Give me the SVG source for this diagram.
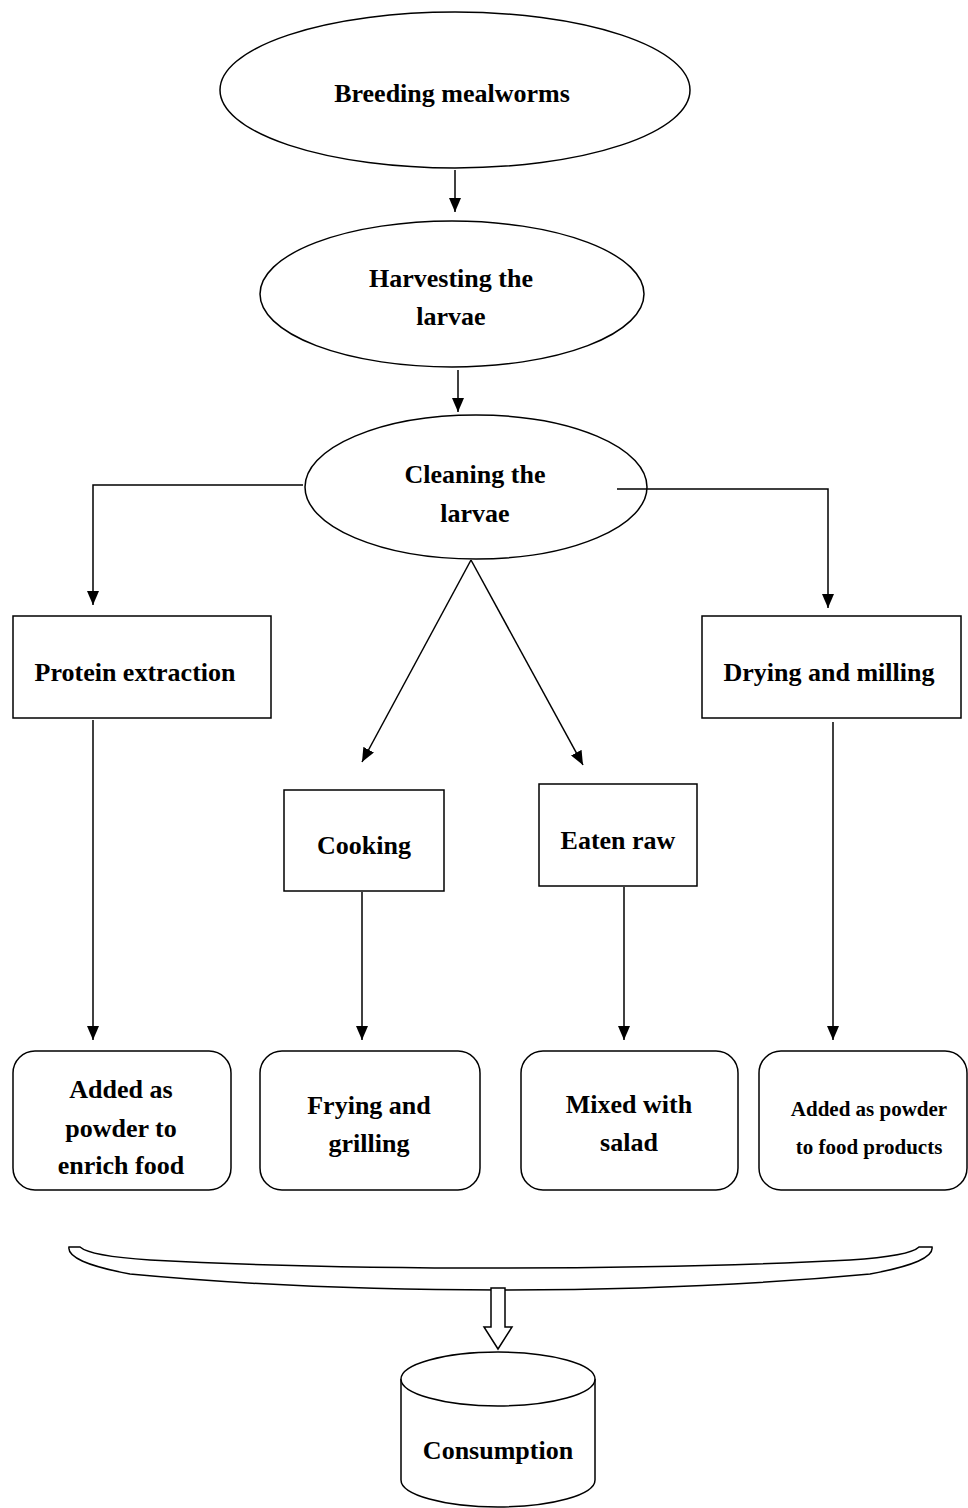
<svg xmlns="http://www.w3.org/2000/svg" width="968" height="1508" viewBox="0 0 968 1508">
<style>
.s{fill:#fff;stroke:#000;stroke-width:1.5}
.t{font-family:"Liberation Serif","Times New Roman",serif;font-weight:bold;font-size:26px;fill:#000;text-anchor:middle}
.sm{font-size:21px}
.c{fill:none;stroke:#000;stroke-width:1.5}
</style>
<defs>
<marker id="ah2" viewBox="0 0 14 12" refX="14" refY="6" markerWidth="14" markerHeight="12" markerUnits="userSpaceOnUse" orient="auto">
<path d="M0,0 L14,6 L0,12 Z" fill="#000"/>
</marker>
</defs>
<rect width="968" height="1508" fill="#fff"/>
<g id="n1"><ellipse class="s" cx="455" cy="90" rx="235" ry="78"/><text class="t" x="452" y="102">Breeding mealworms</text></g>
<g id="n2"><ellipse class="s" cx="452" cy="294" rx="192" ry="73"/><text class="t" x="451" y="287">Harvesting the</text><text class="t" x="451" y="325">larvae</text></g>
<g id="n3"><ellipse class="s" cx="476" cy="487" rx="171" ry="72"/><text class="t" x="475" y="483">Cleaning the</text><text class="t" x="475" y="522">larvae</text></g>
<g id="n4"><rect class="s" x="13" y="616" width="258" height="102"/><text class="t" x="135" y="681">Protein extraction</text></g>
<g id="n5"><rect class="s" x="702" y="616" width="259" height="102"/><text class="t" x="829" y="681">Drying and milling</text></g>
<g id="n6"><rect class="s" x="284" y="790" width="160" height="101"/><text class="t" x="364" y="854">Cooking</text></g>
<g id="n7"><rect class="s" x="539" y="784" width="158" height="102"/><text class="t" x="618" y="849">Eaten raw</text></g>
<g id="n8"><rect class="s" x="13" y="1051" width="218" height="139" rx="22"/><text class="t" x="121" y="1098">Added as</text><text class="t" x="121" y="1137">powder to</text><text class="t" x="121" y="1174">enrich food</text></g>
<g id="n9"><rect class="s" x="260" y="1051" width="220" height="139" rx="22"/><text class="t" x="369" y="1114">Frying and</text><text class="t" x="369" y="1152">grilling</text></g>
<g id="n10"><rect class="s" x="521" y="1051" width="217" height="139" rx="22"/><text class="t" x="629" y="1113">Mixed with</text><text class="t" x="629" y="1151">salad</text></g>
<g id="n11"><rect class="s" x="759" y="1051" width="208" height="139" rx="22"/><text class="t sm" x="869" y="1116">Added  as powder</text><text class="t sm" x="869" y="1154">to food  products</text></g>
<g id="n12"><path class="s" d="M401,1379 V1480 A97,27 0 0 0 595,1480 V1379"/><ellipse class="s" cx="498" cy="1379" rx="97" ry="27"/><text class="t" x="498" y="1459">Consumption</text></g>
<g id="connectors">
<path class="c" d="M455,170 V212" marker-end="url(#ah2)"/>
<path class="c" d="M458,370 V412" marker-end="url(#ah2)"/>
<path class="c" d="M303,485 H93 V605" marker-end="url(#ah2)"/>
<path class="c" d="M617,489 H828 V608" marker-end="url(#ah2)"/>
<path class="c" d="M471,560 L362,762" marker-end="url(#ah2)"/>
<path class="c" d="M471,560 L583,765" marker-end="url(#ah2)"/>
<path class="c" d="M93,720 V1040" marker-end="url(#ah2)"/>
<path class="c" d="M362,892 V1040" marker-end="url(#ah2)"/>
<path class="c" d="M624,887 V1040" marker-end="url(#ah2)"/>
<path class="c" d="M833,722 V1040" marker-end="url(#ah2)"/>
<path class="c" d="M69,1247 H80 Q90,1256 150,1260 Q300,1268 500,1268 Q700,1268 850,1260 Q910,1256 919,1247 H932 Q935,1262 870,1274 Q700,1290 500,1290 Q300,1290 130,1274 Q66,1262 69,1247 Z"/>
<path class="s" d="M491,1288 H505 V1327 H512 L498,1349 L484,1327 H491 Z"/>
</g>
</svg>
